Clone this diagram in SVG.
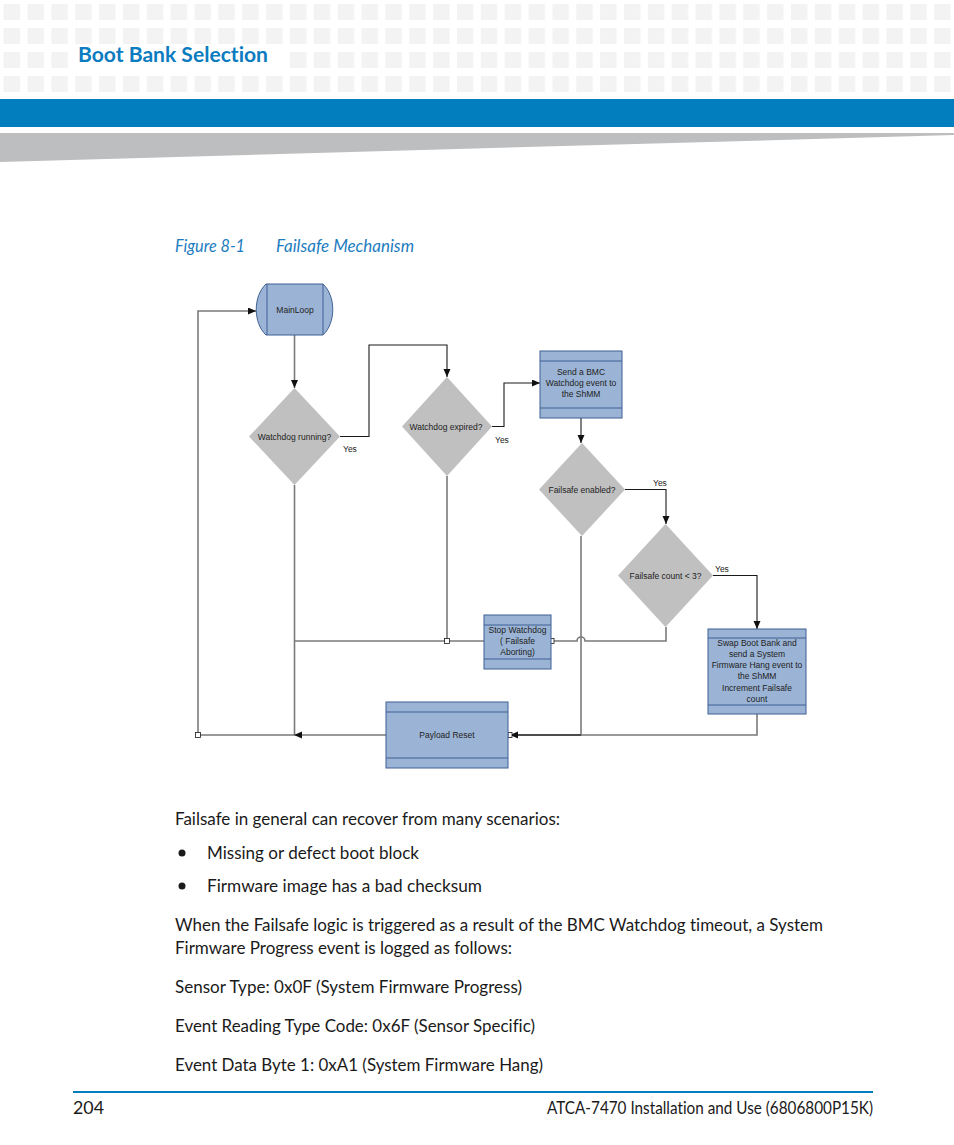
<svg xmlns="http://www.w3.org/2000/svg" width="954" height="1145" viewBox="0 0 954 1145">
<style>
.body{font-family:Lato,"Open Sans","Liberation Sans",sans-serif;font-size:17px;fill:#1a1a1a;font-variant-ligatures:none}
.cap{font-family:Lato,"Open Sans","Liberation Sans",sans-serif;font-size:17px;font-style:italic;fill:#1c7cc0;font-variant-ligatures:none}
.nt{font-family:"Liberation Sans",Arial,sans-serif;font-size:8.5px;fill:#222;text-anchor:middle}
.lbl{font-family:"Liberation Sans",Arial,sans-serif;font-size:8.5px;fill:#222}
.box{fill:#9bb4d5;stroke:#3e5f94;stroke-width:1}
.sep{stroke:#3e5f94;stroke-width:1;fill:none}
.dia{fill:#c0c0c0;stroke:none}
.ln{fill:none;stroke:#7a7a7a;stroke-width:1.6}
.la{fill:none;stroke:#1a1a1a;stroke-width:1.1}
.sq{fill:#fff;stroke:#1a1a1a;stroke-width:0.8}
</style>
<defs>
<pattern id="grid" patternUnits="userSpaceOnUse" x="3.6" y="4" width="23.86" height="24">
<rect x="0" y="0" width="16.5" height="16" fill="#f3f3f3"/>
</pattern>
<marker id="arr" markerUnits="userSpaceOnUse" markerWidth="9" markerHeight="8" refX="8" refY="3.5" orient="auto">
<path d="M0,0 L8,3.5 L0,7 z" fill="#111"/>
</marker>
</defs>
<rect width="954" height="1145" fill="#fff"/>
<g id="header">
<rect x="0" y="4" width="954" height="88" fill="url(#grid)"/>
<rect x="72" y="48" width="215" height="24" fill="#fff"/>
<text x="78" y="62" font-family="Lato,'Open Sans','Liberation Sans',sans-serif" font-size="21" font-weight="bold" fill="#0b7cbf" textLength="190" lengthAdjust="spacingAndGlyphs" style="font-variant-ligatures:none">Boot Bank Selection</text>
<rect x="0" y="99" width="954" height="28" fill="#027dbd"/>
<polygon points="0,133 954,133 954,135 0,162" fill="#bdbec0"/>
</g>
<g id="caption">
<text class="cap" x="175" y="252" textLength="70" lengthAdjust="spacingAndGlyphs">Figure 8-1</text>
<text class="cap" x="276" y="252" textLength="138" lengthAdjust="spacingAndGlyphs">Failsafe Mechanism</text>
</g>
<g id="connectors">
<path class="ln" d="M294.5 335 V388" marker-end="url(#arr)"/>
<path class="la" d="M340 436.5 H369 V345 H447 V377" marker-end="url(#arr)"/>
<path class="la" d="M492 426.5 H504 V383 H540" marker-end="url(#arr)"/>
<path class="la" d="M581 418 V443" marker-end="url(#arr)"/>
<path class="la" d="M625 489.5 H666 V524" marker-end="url(#arr)"/>
<path class="la" d="M713 575.5 H757 V629" marker-end="url(#arr)"/>
<path class="ln" d="M294.5 485 V735"/>
<path class="ln" d="M447 476 V641"/>
<path class="ln" d="M294.5 641 H484"/>
<path class="ln" d="M666 627 V641 H585 A4 4 0 0 0 577 641 H553"/>
<path class="ln" d="M581 536 V735 H512"/>
<path class="ln" d="M757 714 V735 H512"/>
<path class="la" d="M581 735 H510" marker-end="url(#arr)"/>
<path class="ln" d="M386 735 H198 V311 H250"/>
<path class="la" d="M250 311 H256" marker-end="url(#arr)"/>
<polygon points="294,735 302,731.5 302,738.5" fill="#111"/>
<rect class="sq" x="195.5" y="732.5" width="5" height="5"/>
<rect class="sq" x="444.5" y="638.5" width="5" height="5"/>
<rect class="sq" x="550" y="638.5" width="4" height="5"/>
<rect class="sq" x="508" y="732.5" width="4" height="5"/>
</g>
<g id="mainloop">
<path class="box" d="M266 284 H323 C336 296 336 323 323 335 H266 C253 323 253 296 266 284 Z"/>
<path class="sep" d="M267 284 V335 M323 284 V335"/>
<text class="nt" x="295" y="313">MainLoop</text>
</g>
<g id="watchdog-running">
<polygon class="dia" points="294.5,388 340,436.5 294.5,485 249,436.5"/>
<text class="nt" x="294.5" y="439.5">Watchdog running?</text>
<text class="lbl" x="343" y="452">Yes</text>
</g>
<g id="watchdog-expired">
<polygon class="dia" points="447,377 492,426.5 447,476 402,426.5"/>
<text class="nt" x="446" y="429.5">Watchdog expired?</text>
<text class="lbl" x="495" y="443">Yes</text>
</g>
<g id="send-bmc">
<rect class="box" x="540" y="351" width="82" height="67"/>
<path class="sep" d="M540 361 H622 M540 408 H622"/>
<text class="nt" x="581" y="375">Send a BMC</text>
<text class="nt" x="581" y="386">Watchdog event to</text>
<text class="nt" x="581" y="397">the ShMM</text>
</g>
<g id="failsafe-enabled">
<polygon class="dia" points="582,443 625,489.5 582,536 539,489.5"/>
<text class="nt" x="582" y="492.5">Failsafe enabled?</text>
<text class="lbl" x="653" y="486">Yes</text>
</g>
<g id="failsafe-count">
<polygon class="dia" points="665.5,524 713,575.5 665.5,627 618,575.5"/>
<text class="nt" x="665.5" y="578.5">Failsafe count &lt; 3?</text>
<text class="lbl" x="715" y="572">Yes</text>
</g>
<g id="swap-boot-bank">
<rect class="box" x="708" y="629" width="98" height="85"/>
<path class="sep" d="M708 638 H806 M708 705 H806"/>
<text class="nt" x="757" y="646">Swap Boot Bank and</text>
<text class="nt" x="757" y="657">send a System</text>
<text class="nt" x="757" y="668">Firmware Hang event to</text>
<text class="nt" x="757" y="679">the ShMM</text>
<text class="nt" x="757" y="691">Increment Failsafe</text>
<text class="nt" x="757" y="702">count</text>
</g>
<g id="stop-watchdog">
<rect class="box" x="484" y="615" width="67" height="54"/>
<path class="sep" d="M484 625 H551 M484 659 H551"/>
<text class="nt" x="517.5" y="633">Stop Watchdog</text>
<text class="nt" x="517.5" y="644">( Failsafe</text>
<text class="nt" x="517.5" y="655">Aborting)</text>
</g>
<g id="payload-reset">
<rect class="box" x="386" y="702" width="122" height="66"/>
<path class="sep" d="M386 712 H508 M386 758 H508"/>
<text class="nt" x="447" y="738">Payload Reset</text>
</g>
<g id="body-text">
<text class="body" x="175" y="825" textLength="385" lengthAdjust="spacingAndGlyphs">Failsafe in general can recover from many scenarios:</text>
<circle cx="182" cy="853" r="3.5" fill="#1a1a1a"/>
<text class="body" x="207" y="859" textLength="212" lengthAdjust="spacingAndGlyphs">Missing or defect boot block</text>
<circle cx="182" cy="886" r="3.5" fill="#1a1a1a"/>
<text class="body" x="207" y="892" textLength="275" lengthAdjust="spacingAndGlyphs">Firmware image has a bad checksum</text>
<text class="body" x="175" y="931" textLength="648" lengthAdjust="spacingAndGlyphs">When the Failsafe logic is triggered as a result of the BMC Watchdog timeout, a System</text>
<text class="body" x="175" y="954" textLength="337" lengthAdjust="spacingAndGlyphs">Firmware Progress event is logged as follows:</text>
<text class="body" x="175" y="993" textLength="347" lengthAdjust="spacingAndGlyphs">Sensor Type: 0x0F (System Firmware Progress)</text>
<text class="body" x="175" y="1032" textLength="360" lengthAdjust="spacingAndGlyphs">Event Reading Type Code: 0x6F (Sensor Specific)</text>
<text class="body" x="175" y="1071" textLength="368" lengthAdjust="spacingAndGlyphs">Event Data Byte 1: 0xA1 (System Firmware Hang)</text>
</g>
<g id="footer">
<rect x="73" y="1091" width="800" height="2" fill="#027dbd"/>
<text class="body" x="73" y="1114" font-size="16" textLength="31" lengthAdjust="spacingAndGlyphs">204</text>
<text class="body" x="873" y="1114" font-size="16" text-anchor="end" textLength="326" lengthAdjust="spacingAndGlyphs">ATCA-7470 Installation and Use (6806800P15K)</text>
</g>
</svg>
